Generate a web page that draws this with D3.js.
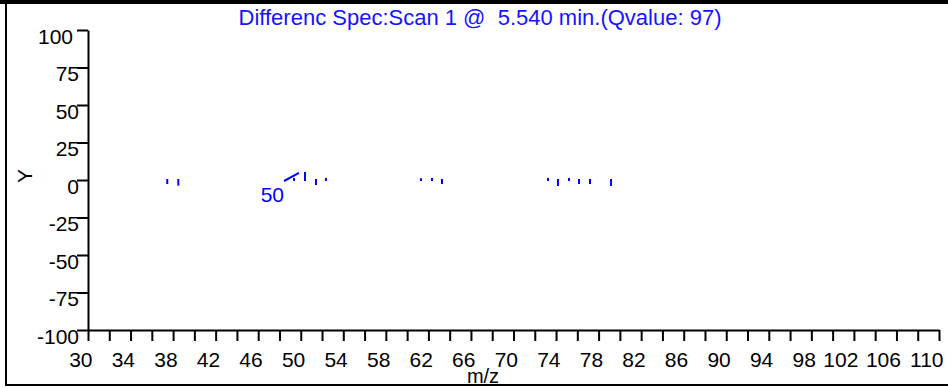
<!DOCTYPE html>
<html>
<head>
<meta charset="utf-8">
<script src="https://cdn.jsdelivr.net/npm/d3@7"></script>
<style>
  body { margin: 0; background: #fff; }
  text { font-family: "Liberation Sans", Arial, sans-serif; }
</style>
</head>
<body>
<div id="chart"></div>
<script>
// m/z positions as they sit against the axis, and intensity of the difference
const mzValues = [37.45, 38.49, 49.37, 50.40, 51.43, 52.37, 61.30, 62.34, 63.28,
  73.24, 74.18, 75.22, 76.16, 77.19, 79.17];
const diffValues = [-2, -3.1, 0.7, 4.7, -2.7, 0.7, 0.5, 0.7, -2,
  0.7, -3.3, 0.7, -2, -2, -3.3];
const peakLabels = [{ mz: 50.40, text: "50" }];
const xTicks = d3.range(30, 111, 2);
const yTicks = [-100, -75, -50, -25, 0, 25, 50, 75, 100];
const titleText = "Differenc Spec:Scan 1 @  5.540 min.(Qvalue: 97)";

const W = 948, H = 388;
const blue = "#0000ff";

const svg = d3.select("#chart").append("svg")
  .attr("width", W).attr("height", H);

const x = d3.scaleLinear().domain([30, 110]).range([88, 939]);
const y = d3.scaleLinear().domain([-100, 100]).range([330, 30]);

// frame
svg.append("rect").attr("x", 0).attr("y", 0).attr("width", W).attr("height", 4).attr("fill", "#000");
svg.append("rect").attr("x", 6).attr("y", 3).attr("width", W + 10).attr("height", 382)
  .attr("fill", "none").attr("stroke", "#000").attr("stroke-width", 2);

// title
svg.append("text")
  .attr("x", 480).attr("y", 25)
  .attr("text-anchor", "middle")
  .attr("fill", "#1414ff")
  .style("font-size", "22px")
  .style("white-space", "pre")
  .text(titleText);

// x axis
const xAxis = d3.axisBottom(x)
  .tickValues(xTicks)
  .tickSize(11)
  .tickSizeOuter(0)
  .tickFormat(d => (d - 30) % 4 === 0 ? String(d) : "");
const gx = svg.append("g").attr("transform", `translate(0,${y(-100)})`).call(xAxis);
gx.select(".domain").attr("stroke-width", 2);
gx.selectAll(".tick line").attr("stroke-width", 2);
gx.selectAll(".tick text")
  .attr("text-anchor", "end")
  .attr("x", 4).attr("y", 37).attr("dy", 0)
  .attr("fill", "#000")
  .style("font-size", "21px")
  .style("font-family", "Liberation Sans, Arial, sans-serif");

// y axis
const yAxis = d3.axisLeft(y)
  .tickValues(yTicks)
  .tickSize(11)
  .tickSizeOuter(0)
  .tickFormat(d => String(d));
const gy = svg.append("g").attr("transform", `translate(${x(30)},0)`).call(yAxis);
gy.select(".domain").attr("stroke-width", 2);
gy.selectAll(".tick line").attr("stroke-width", 2);
gy.selectAll(".tick text")
  .attr("text-anchor", "end")
  .attr("x", d => d === 100 ? -15 : -9).attr("y", 13).attr("dy", 0)
  .attr("fill", "#000")
  .style("font-size", "21px")
  .style("font-family", "Liberation Sans, Arial, sans-serif");

// axis titles
svg.append("text")
  .attr("transform", "translate(32,176) rotate(-90)")
  .attr("text-anchor", "middle")
  .style("font-size", "21px")
  .text("Y");

svg.append("text")
  .attr("x", 483).attr("y", 383)
  .attr("text-anchor", "middle")
  .style("font-size", "20px")
  .text("m/z");

// spectrum sticks
const sticks = mzValues.map((m, i) => ({ mz: m, v: diffValues[i] }));
svg.append("g").selectAll("line")
  .data(sticks)
  .enter()
  .append("line")
  .attr("x1", d => x(d.mz)).attr("x2", d => x(d.mz))
  .attr("y1", y(0)).attr("y2", d => y(d.v))
  .attr("stroke", blue)
  .attr("stroke-width", 2)
  .attr("stroke-linecap", "square");

// peak annotation with leader line
peakLabels.forEach(p => {
  const s = sticks.find(d => d.mz === p.mz);
  svg.append("line")
    .attr("x1", x(p.mz) - 21).attr("y1", y(0) + 1)
    .attr("x2", x(p.mz) - 6).attr("y2", y(s.v))
    .attr("stroke", blue).attr("stroke-width", 2);
  svg.append("text")
    .attr("x", x(p.mz) - 21).attr("y", y(0) + 22)
    .attr("text-anchor", "end")
    .attr("fill", blue)
    .style("font-size", "21px")
    .text(p.text);
});
</script>
</body>
</html>
